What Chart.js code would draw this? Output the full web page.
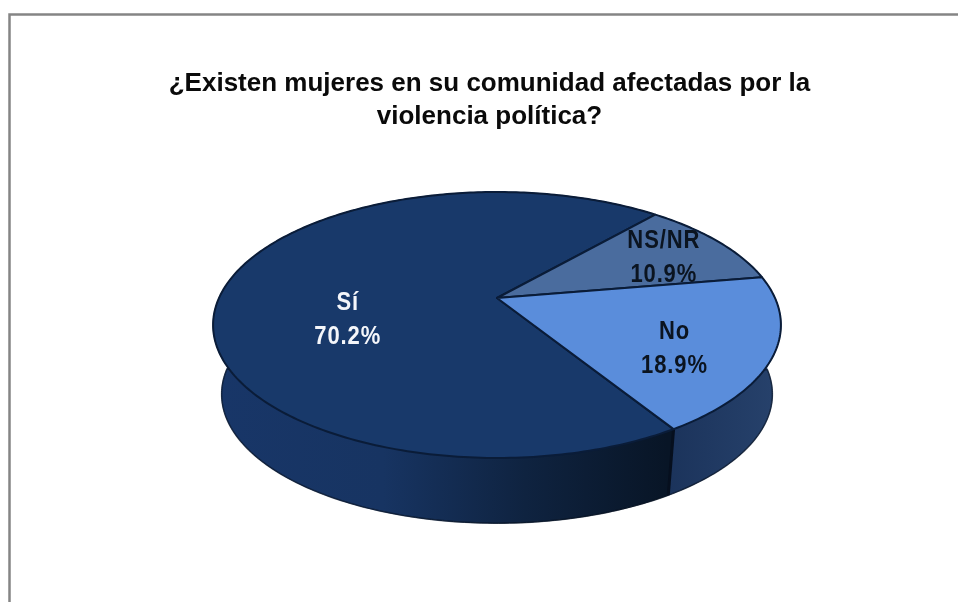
<!DOCTYPE html>
<html>
<head>
<meta charset="utf-8">
<title>Violencia política</title>
<script src="https://cdn.jsdelivr.net/npm/chart.js@4"></script>
<style>
  html, body { margin: 0; padding: 0; background: #fff; overflow: hidden; }
  canvas { display: block; }
</style>
</head>
<body>
<canvas id="pie" width="958" height="602"></canvas>
<script>
const categories = ['Sí', 'NS/NR', 'No'];
const percentages = [70.2, 10.9, 18.9];
const titleLines = ['¿Existen mujeres en su comunidad afectadas por la', 'violencia política?'];

const topColors = ['#18396a', '#4a6c9e', '#5a8ddb'];
const labelColors = ['#f4f6fa', '#0b1420', '#0b1420'];
// wall shading, left to right across the pie
const wallStops = [
  ['#183668', '#173462', '#0f2340', '#081526'],
  ['#2a4a78', '#2a4a78'],
  ['#1b335b', '#27426c']
];
// where each label sits: fraction of the radius, then a nudge in px
const labelSpots = [
  { f: 0.54, dx: -1, dy: 28 },
  { f: 0.72, dx: 4, dy: 2 },
  { f: 0.58, dx: 23, dy: 19 }
];

// perspective disc, fitted to the picture
const cx = 497, cy = 298, a = 278, b = 127.5, k = 0.203;
const drop = 70, shrink = 0.97;

function project(angle, f) {
  const c = Math.cos(angle) * f, s = Math.sin(angle) * f;
  const w = 1 - k * s;
  return { x: cx + a * c / w, y: cy + b * s / w };
}
function lower(p) {
  return { x: cx + (p.x - cx) * shrink, y: cy + (p.y - cy) * shrink + drop };
}
function rim(start, end) {
  const n = Math.max(8, Math.ceil((end - start) * 60));
  const pts = [];
  for (let i = 0; i <= n; i++) pts.push(project(start + (end - start) * i / n, 1));
  return pts;
}
// labels in the picture are tall and narrow
function squeezedText(ctx, text, x, y) {
  ctx.save();
  ctx.translate(x, y);
  ctx.scale(0.88, 1);
  ctx.fillText(text, 0, 0);
  ctx.restore();
}

const framePlugin = {
  id: 'frame',
  beforeDraw(chart) {
    const ctx = chart.ctx;
    ctx.save();
    ctx.strokeStyle = '#858585';
    ctx.lineWidth = 2.5;
    ctx.beginPath();
    ctx.moveTo(9.5, 602);
    ctx.lineTo(9.5, 14.5);
    ctx.lineTo(958, 14.5);
    ctx.stroke();
    ctx.restore();
  }
};

const discPlugin = {
  id: 'disc',
  beforeDatasetsDraw(chart) {
    const ctx = chart.ctx;
    const arcs = chart.getDatasetMeta(0).data;
    ctx.save();
    ctx.lineJoin = 'round';

    // side walls first, the top covers whatever is at the back
    arcs.forEach((arc, i) => {
      const pts = rim(arc.startAngle, arc.endAngle);
      const grad = ctx.createLinearGradient(cx - 284, 0, cx + 284, 0);
      const stops = wallStops[i];
      if (i === 0) {
        grad.addColorStop(0, stops[0]);
        grad.addColorStop(0.3, stops[1]);
        grad.addColorStop(0.55, stops[2]);
        grad.addColorStop(0.8, stops[3]);
        grad.addColorStop(1, stops[3]);
      } else if (i === 2) {
        grad.addColorStop(0.8, stops[0]);
        grad.addColorStop(1, stops[1]);
      } else {
        grad.addColorStop(0, stops[0]);
        grad.addColorStop(1, stops[1]);
      }
      ctx.beginPath();
      pts.forEach((p, j) => (j ? ctx.lineTo(p.x, p.y) : ctx.moveTo(p.x, p.y)));
      pts.slice().reverse().forEach(p => {
        const q = lower(p);
        ctx.lineTo(q.x, q.y);
      });
      ctx.closePath();
      ctx.fillStyle = grad;
      ctx.fill();
      ctx.strokeStyle = grad;
      ctx.lineWidth = 1;
      ctx.stroke();
    });

    // dark rim along the bottom of the wall
    ctx.beginPath();
    rim(arcs[0].startAngle - 2 * Math.PI, arcs[0].endAngle).forEach((p, j) => {
      const q = lower(p);
      if (p.y > cy) j ? ctx.lineTo(q.x, q.y) : ctx.moveTo(q.x, q.y);
    });
    ctx.strokeStyle = 'rgba(6,16,32,0.6)';
    ctx.lineWidth = 1.5;
    ctx.stroke();

    // edge between the Sí and No walls
    const corner = project(arcs[0].startAngle, 1);
    const foot = lower(corner);
    ctx.beginPath();
    ctx.moveTo(corner.x, corner.y);
    ctx.lineTo(foot.x, foot.y);
    ctx.strokeStyle = '#060f1e';
    ctx.lineWidth = 3;
    ctx.stroke();

    // top surface
    arcs.forEach(arc => {
      ctx.beginPath();
      ctx.moveTo(cx, cy);
      rim(arc.startAngle, arc.endAngle).forEach(p => ctx.lineTo(p.x, p.y));
      ctx.closePath();
      ctx.fillStyle = arc.options.backgroundColor;
      ctx.fill();
      ctx.strokeStyle = arc.options.borderColor;
      ctx.lineWidth = arc.options.borderWidth;
      ctx.stroke();
    });

    // labels
    ctx.textAlign = 'center';
    ctx.textBaseline = 'middle';
    ctx.font = 'bold 25px "Liberation Sans", Arial, sans-serif';
    ctx.letterSpacing = '1px';
    arcs.forEach((arc, i) => {
      const spot = labelSpots[i];
      const p = project((arc.startAngle + arc.endAngle) / 2, spot.f);
      ctx.fillStyle = labelColors[i];
      squeezedText(ctx, categories[i], p.x + spot.dx, p.y + spot.dy - 17);
      squeezedText(ctx, percentages[i].toFixed(1) + '%', p.x + spot.dx, p.y + spot.dy + 17);
    });
    ctx.restore();
    return false;
  }
};

new Chart(document.getElementById('pie'), {
  type: 'pie',
  data: {
    labels: categories,
    datasets: [{
      data: percentages,
      backgroundColor: topColors,
      borderColor: '#0a1c38',
      borderWidth: 2
    }]
  },
  options: {
    responsive: false,
    animation: false,
    rotation: 148.3,
    layout: { padding: { left: 21, top: 0 } },
    plugins: {
      legend: { display: false },
      tooltip: { enabled: false },
      title: {
        display: true,
        text: titleLines,
        color: '#0a0a0a',
        font: { family: '"Liberation Sans", Arial, sans-serif', size: 26, weight: 'bold', lineHeight: 1.27 },
        padding: { top: 67, bottom: 10 }
      }
    }
  },
  plugins: [framePlugin, discPlugin]
});
</script>
</body>
</html>
